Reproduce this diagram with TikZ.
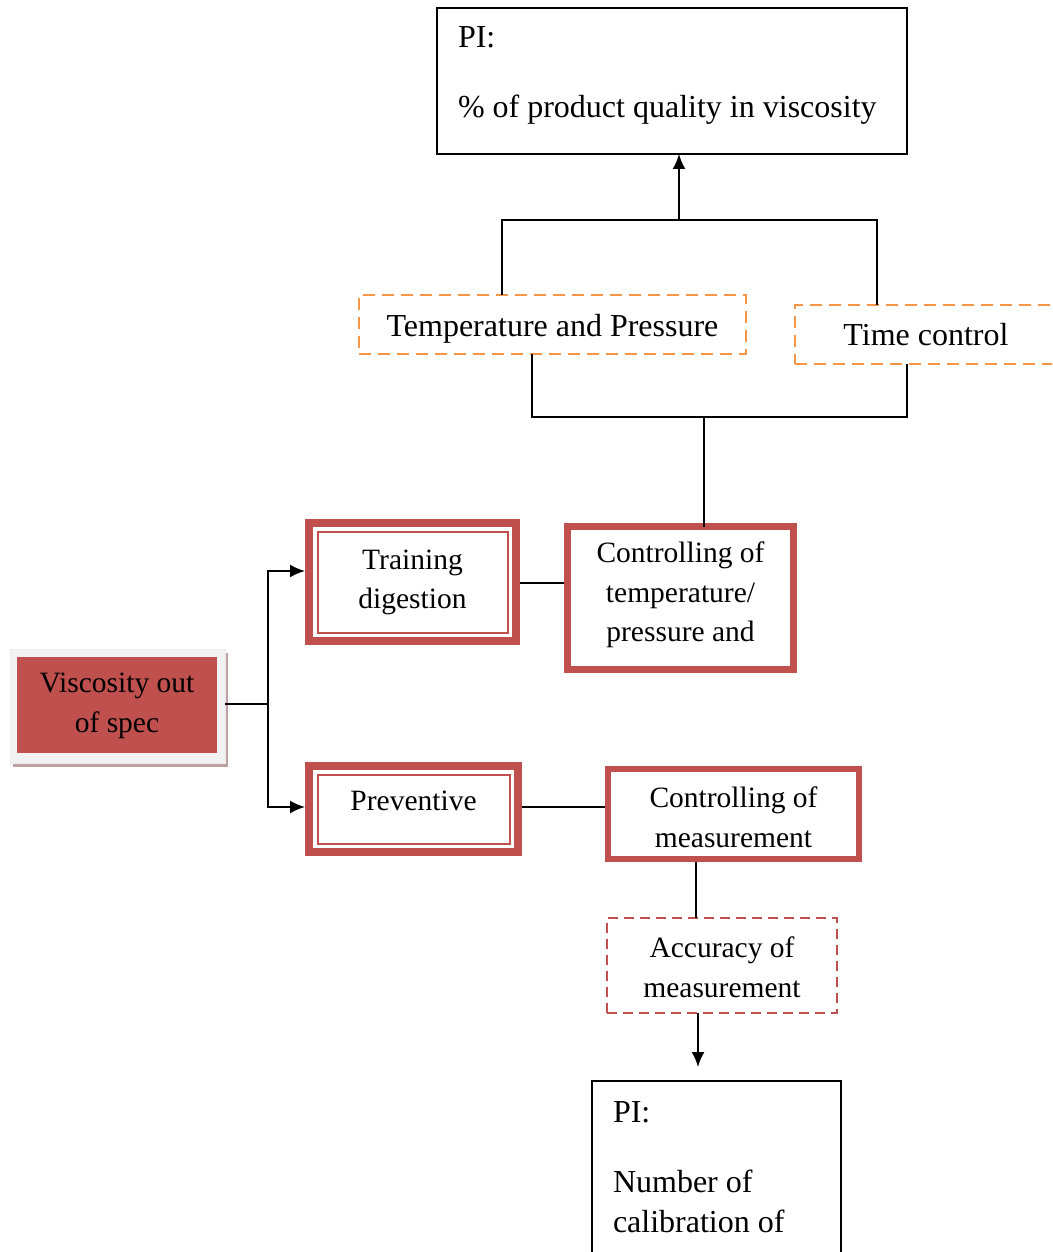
\documentclass[tikz,border=0pt]{standalone}
\usepackage{fontspec}
\setmainfont{Liberation Serif}
\usetikzlibrary{arrows.meta}
\definecolor{boxred}{HTML}{C0504D}
\definecolor{dashorange}{HTML}{F79646}
\definecolor{framegray}{HTML}{F2F2F2}
\definecolor{shadowrose}{HTML}{BCA2A2}
\tikzset{
  every node/.style={font=\fontsize{32}{39.5}\selectfont, outer sep=0pt},
  boxfont/.style={font=\fontsize{29.5}{39.5}\selectfont},
  link/.style={draw=black, line width=2pt},
  arrowlink/.style={link, -{Latex[length=15pt,width=13pt]}},
  pibox/.style={draw=black, line width=2pt, inner sep=0pt},
  dashbox/.style={draw=dashorange, line width=2.6pt, dash pattern=on 12pt off 7pt, inner sep=0pt, align=center},
  reddash/.style={draw=boxred, line width=2.4pt, dash pattern=on 10pt off 6pt, inner sep=0pt, align=center, boxfont},
  thickbox/.style={draw=boxred, line width=7pt, inner sep=0pt, align=center, boxfont},
  doublebox/.style={draw=boxred, line width=8pt, inner sep=0pt, align=center},
  innerline/.style={draw=boxred, line width=2pt},
  plain/.style={inner sep=0pt, align=center},
}
\begin{document}
\begin{tikzpicture}[x=1pt,y=-1pt]
\useasboundingbox (0,0) rectangle (1052,1252);
\clip (0,0) rectangle (1052,1252);

% top performance indicator
\node[pibox, minimum width=470pt, minimum height=146pt] (pitop) at (672,81) {};
\node[plain, anchor=base west] (pitopa) at (458,48) {PI:};
\node[plain, anchor=base west] (pitopb) at (458,118) {\% of product quality in viscosity};

% factor boxes (dashed orange)
\node[dashbox, minimum width=387pt, minimum height=59pt] (tp) at (552.5,324.5) {};
\node[plain] (tptext) at (552.5,328.5) {Temperature and Pressure};
\node[draw=dashorange, line width=2.6pt, dash pattern=on 12pt off 7pt, inner sep=0pt,
      minimum width=269pt, minimum height=59pt] (tc) at (929.5,334.5) {};
\node[plain] (tctext) at (926,334.5) {Time control};

% controlling boxes
\node[thickbox, minimum width=226pt, minimum height=143pt] (ctp) at (680.5,598) {};
\node[plain, boxfont] (ctptext) at (680.5,595) {Controlling of\\temperature/\\pressure and};
\node[thickbox, line width=6pt, minimum width=251pt, minimum height=90pt] (cm) at (733.5,814) {};
\node[plain, boxfont] (cmtext) at (733.5,817) {Controlling of\\measurement};

% training / preventive boxes with inner line
\node[doublebox, minimum width=207pt, minimum height=118pt] (train) at (412.5,582) {};
\draw[innerline] ([shift={(8.5,8.5)}]train.north west) rectangle ([shift={(-8.5,-8.5)}]train.south east);
\begin{scope}
  \clip (320,526) rectangle (505,626.5);
  \node[plain, boxfont] (traintext) at (412.5,599) {Training\\digestion\\skills};
\end{scope}
\node[doublebox, minimum width=209pt, minimum height=86pt] (prev) at (413.5,809) {};
\draw[innerline] ([shift={(8.5,8.5)}]prev.north west) rectangle ([shift={(-8.5,-8.5)}]prev.south east);
\node[plain, boxfont] (prevtext) at (413.5,801) {Preventive};

% accuracy box
\node[reddash, minimum width=230pt, minimum height=95pt] (acc) at (722,965.5) {};
\node[plain, boxfont] (acctext) at (722,967) {Accuracy of\\measurement};

% bottom performance indicator
\node[pibox, minimum width=249pt, minimum height=181pt] (pibot) at (716.5,1171.5) {};
\node[plain, anchor=base west] (pibota) at (613,1122) {PI:};
\node[plain, anchor=base west] (pibotb) at (613,1192) {Number of};
\node[plain, anchor=base west] (pibotc) at (613,1232) {calibration of};

% problem box with frame and shadow
\fill[shadowrose] (13,653) rectangle (228,767);
\node[fill=framegray, draw=black!8, line width=0.6pt, inner sep=0pt,
      minimum width=215pt, minimum height=114pt] (visc) at (117.5,706) {};
\node[fill=boxred, inner sep=0pt, align=center, boxfont, minimum width=200pt, minimum height=96pt] (viscfill) at (117,705) {};
\node[plain, boxfont] (visctext) at (117,706) {Viscosity out\\of spec};

% connectors
\coordinate (fork) at (268,704);
\draw[link] (visc.east |- fork) -- (fork);
\draw[arrowlink] (fork) |- ([shift={(-4,-11)}]train.west);
\draw[arrowlink] (fork) |- ([shift={(-4,-2)}]prev.west);
\draw[link] ([shift={(4,1)}]train.east) -- ([shift={(-3.5,1)}]train.east -| ctp.west);
\draw[link] ([shift={(4,-2)}]prev.east) -- ([shift={(-3,-2)}]prev.east -| cm.west);

\coordinate (lowjoin) at (704,417);
\draw[link] (lowjoin) -- (lowjoin |- ctp.north);
\draw[link] ([xshift=-20.5pt]tp.south) |- (lowjoin) -| ([xshift=-22.5pt]tc.south);

\coordinate (topjoin) at (679,220);
\draw[link] ([xshift=-50.5pt]tp.north) |- (topjoin) -| ([xshift=-52.5pt]tc.north);
\draw[arrowlink] (topjoin) -- (topjoin |- pitop.south);

\draw[link] ([shift={(-37.5,3)}]cm.south) -- ([xshift=-37.5pt]cm.south |- acc.north);
\coordinate (accend) at (698,1067);
\draw[arrowlink] (accend |- acc.south) -- (accend);
\end{tikzpicture}
\end{document}
